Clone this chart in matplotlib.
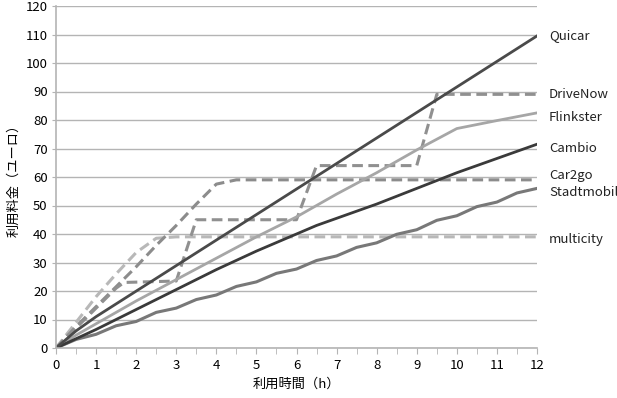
"""Car-sharing price vs. rental time (Germany), recreated chart."""

import matplotlib
matplotlib.use("Agg")
import matplotlib.pyplot as plt
import numpy as np

plt.rcParams["font.family"] = ["Noto Sans CJK JP", "DejaVu Sans"]

# ---------------------------------------------------------------------------
# Data
# ---------------------------------------------------------------------------
HOURS = [0, 0.5, 1, 1.5, 2, 2.5, 3, 3.5, 4, 4.5, 5, 5.5, 6,
         6.5, 7, 7.5, 8, 8.5, 9, 9.5, 10, 10.5, 11, 11.5, 12]

quicar_x = [0, 0.5, 1, 12]
quicar_y = [0, 6, 11, 109.5]

drivenow_x = [0, 0.5, 1, 1.5, 1.7, 3.0, 3.5, 6.0, 6.5, 9.0, 9.5, 12]
drivenow_y = [0, 7, 14, 21, 23, 23.5, 45, 45, 64, 64, 89, 89]

flinkster_x = [0, 0.5, 1, 2, 3, 4, 5, 6, 7, 8, 9, 10, 11, 12]
flinkster_y = [0, 4.5, 8.5, 16.5, 24, 31.5, 39, 46, 54, 61.5, 69.5, 77, 79.8, 82.5]

cambio_x = [0, 1, 2, 3, 4, 5, 6, 6.5, 7, 8, 9, 10, 11, 12]
cambio_y = [0, 6.5, 13.5, 20.5, 27.5, 34, 40, 43, 45.5, 50.5, 56, 61.5, 66.5, 71.5]

car2go_x = [0, 0.5, 1, 1.5, 2, 2.5, 3, 3.5, 4, 4.5, 12]
car2go_y = [0, 7.5, 14.5, 21.5, 28.5, 36, 43, 50.5, 57.5, 59, 59]

stadtmobil_y = [0, 3, 4.8, 7.8, 9.3, 12.5, 14, 17, 18.6, 21.6, 23.2, 26.2, 27.7,
                30.7, 32.3, 35.3, 36.9, 39.9, 41.5, 44.8, 46.4, 49.6, 51.2, 54.4, 56]

multicity_x = [0, 0.5, 1, 1.5, 2, 2.5, 3, 12]
multicity_y = [0, 9, 18, 26, 33.5, 38.5, 39, 39]

# label name, y position of the right-hand label (data units)
LABELS = [("Quicar", 109.5), ("DriveNow", 89), ("Flinkster", 81),
          ("Cambio", 70), ("Car2go", 60.5), ("Stadtmobil", 54.5),
          ("multicity", 38)]

GRID = "#b4b4b4"


def main() -> None:
    fig = plt.figure(figsize=(6.17, 3.98), dpi=100)
    ax = fig.add_axes([56 / 617, 50 / 398, 481 / 617, 342 / 398])

    dash = (3.5, 1.8)
    ax.plot(multicity_x, multicity_y, "--", color="#b8b8b8", lw=2.2, dashes=dash)
    ax.plot(car2go_x, car2go_y, "--", color="#8c8c8c", lw=2.2, dashes=dash)
    ax.plot(drivenow_x, drivenow_y, "--", color="#909090", lw=2.2, dashes=dash)
    ax.plot(HOURS, stadtmobil_y, "-", color="#787878", lw=2.2)
    ax.plot(flinkster_x, flinkster_y, "-", color="#a6a6a6", lw=2.0)
    ax.plot(cambio_x, cambio_y, "-", color="#3a3a3a", lw=2.0)
    ax.plot(quicar_x, quicar_y, "-", color="#4a4a4a", lw=2.0)

    ax.set_xlim(0, 12)
    ax.set_ylim(0, 120)
    ax.set_xticks(np.arange(0, 13, 1))
    ax.set_xticks(np.arange(0, 12.5, 0.5), minor=True)
    ax.set_yticks(np.arange(0, 121, 10))
    ax.yaxis.grid(True, color=GRID, lw=1.0)
    ax.set_axisbelow(True)

    for side in ("top", "right"):
        ax.spines[side].set_visible(False)
    for side in ("left", "bottom"):
        ax.spines[side].set_color(GRID)
        ax.spines[side].set_linewidth(1.2)

    ax.tick_params(axis="x", which="both", direction="out", length=4,
                   color=GRID, labelsize=9.5, pad=4)
    ax.tick_params(axis="y", direction="out", length=3, color=GRID,
                   labelsize=9.5, pad=3)

    for name, y in LABELS:
        ax.text(12.3, y, name, fontsize=9.5, va="center", ha="left",
                color="#222222", clip_on=False)

    ax.set_xlabel("利用時間（h）", fontsize=9.5, labelpad=4)
    ax.set_ylabel("利用料金（ユーロ）", fontsize=9.5, labelpad=4)

    fig.savefig("out.png", dpi=100)
    plt.close(fig)


if __name__ == "__main__":
    main()
